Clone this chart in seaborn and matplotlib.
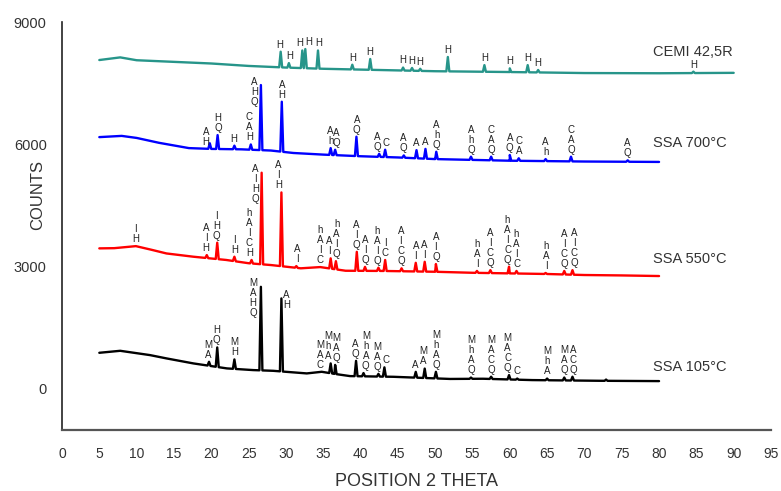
import numpy as np
import pandas as pd
import matplotlib
matplotlib.use("Agg")
import matplotlib.pyplot as plt
import seaborn as sns

# ---------------------------------------------------------------- data
# Each diffractogram: background knots (2theta, counts) and reflections (2theta, apex counts)

cem_base_x = [5, 7.8, 10, 15, 20, 25, 30, 35, 40, 45, 50, 60, 70, 80, 90]
cem_base_y = [8065, 8130, 8060, 8020, 7980, 7920, 7880, 7850, 7830, 7810, 7790, 7770, 7745, 7740, 7750]
cem_peak_x = [29.3, 30.4, 32.2, 32.6, 34.3, 38.9, 41.3, 45.7, 46.9, 48.0, 51.7, 56.6, 60.0, 62.4, 63.8, 84.6]
cem_peak_y = [8270, 7990, 8300, 8335, 8300, 7950, 8090, 7880, 7870, 7850, 8140, 7940, 7860, 7940, 7820, 7780]

s700_base_x = [5, 8, 10, 13, 17, 20, 24, 28, 31, 35, 40, 45, 50, 55, 60, 70, 80]
s700_base_y = [6170, 6200, 6150, 6030, 5900, 5880, 5870, 5840, 5780, 5740, 5700, 5670, 5630, 5610, 5590, 5570, 5560]
s700_peak_x = [19.8, 20.85, 23.1, 25.3, 26.65, 29.45, 36.0, 36.6, 39.45, 42.5, 43.3, 45.8, 47.5,
               48.7, 50.15, 54.8, 57.5, 60.0, 61.2, 64.8, 68.2, 75.8]
s700_peak_y = [6020, 6220, 5960, 5990, 7450, 7040, 5900, 5860, 6180, 5760, 5860, 5720, 5850,
               5880, 5810, 5690, 5690, 5730, 5650, 5630, 5690, 5600]

s550_base_x = [5, 7, 9.9, 12, 14, 17.6, 22, 25, 28, 32, 34.6, 38, 43, 50, 55, 60, 65, 70, 75, 80]
s550_base_y = [3435, 3440, 3490, 3400, 3310, 3230, 3150, 3070, 3025, 2945, 2975, 2885, 2880,
               2860, 2835, 2820, 2805, 2780, 2770, 2755]
s550_peak_x = [19.4, 20.8, 23.1, 25.4, 26.75, 29.4, 31.4, 36.0, 36.7, 39.5, 40.6, 42.4, 43.3,
               45.5, 47.4, 48.6, 50.1, 55.6, 57.4, 59.9, 60.9, 64.8, 67.3, 68.4]
s550_peak_y = [3270, 3575, 3230, 3150, 5295, 4810, 3000, 3190, 3120, 3350, 2980, 2960, 3150,
               2945, 3080, 3105, 3050, 2880, 2900, 2985, 2880, 2830, 2880, 2900]

s105_base_x = [5, 7.8, 11.8, 14, 17.6, 22.1, 25.6, 28.3, 32.8, 34.8, 36.5, 38.6, 44.4, 52, 56.4, 63, 72, 80]
s105_base_y = [868, 917, 811, 730, 607, 484, 443, 425, 361, 401, 350, 295, 278, 225, 230, 197, 180, 172]
s105_peak_x = [19.7, 20.8, 23.1, 26.65, 29.4, 36.0, 36.6, 39.4, 40.4, 42.4, 43.2, 47.4, 48.6,
               50.1, 54.8, 57.5, 59.9, 61.0, 65.0, 67.3, 68.4, 72.9]
s105_peak_y = [647, 1000, 705, 2490, 2205, 607, 570, 670, 370, 350, 510, 400, 480,
               400, 260, 280, 320, 235, 235, 260, 280, 210]

# Phase identification tags (2theta of tag, stacked letters)
cem_tags = [(29.2, "H"), (30.5, "H"), (31.8, "H"), (33.0, "H"), (34.4, "H"), (38.9, "H"),
            (41.3, "H"), (45.6, "H"), (46.9, "H"), (48.0, "H"), (51.7, "H"), (56.6, "H"),
            (60.0, "H"), (62.4, "H"), (63.8, "H"), (84.6, "H")]
s700_tags = [(19.3, "A\nH"), (20.9, "H\nQ"), (23.0, "H"), (25.1, "C\nA\nH"), (29.45, "A\nH"),
             (36.0, "A\nh"), (36.8, "A\nQ"), (39.5, "A\nQ"), (42.3, "A\nQ"), (43.4, "C"),
             (45.7, "A\nQ"), (47.5, "A"), (48.7, "A"), (50.2, "A\nh\nQ"), (54.8, "A\nh\nQ"),
             (57.5, "C\nA\nQ"), (60.0, "A\nQ"), (61.2, "C\nA"), (64.8, "A\nh"),
             (68.2, "C\nA\nQ"), (75.8, "A\nQ")]
s700_side = [(25.8, "A\nH\nQ")]
s550_tags = [(9.9, "I\nH"), (19.3, "A\nI\nH"), (20.7, "I\nH\nQ"), (23.1, "I\nH"),
             (25.1, "h\nA\nI\nC\nH"), (29.0, "A\nI\nH"), (31.5, "A\nI"), (34.6, "h\nA\nI\nC"),
             (35.8, "A\nI"), (36.8, "h\nA\nI\nQ"), (39.4, "A\nI\nQ"), (40.6, "A\nI\nQ"),
             (42.2, "h\nA\nI\nQ"), (43.3, "I\nC"), (45.4, "A\nI\nC\nQ"), (47.4, "A\nI"),
             (48.6, "A\nI"), (50.1, "A\nI\nQ"), (55.6, "h\nA\nI"), (57.4, "A\nI\nC\nQ"),
             (59.7, "h\nA\nI\nC\nQ"), (60.9, "h\nA\nI\nC"), (64.9, "h\nA\nI"),
             (67.3, "A\nI\nC\nQ"), (68.6, "A\nI\nC\nQ")]
s550_side = [(25.9, "A\nI\nH\nQ")]
s105_tags = [(19.6, "M\nA"), (20.7, "H\nQ"), (23.1, "M\nH"), (34.6, "M\nA\nC"), (35.7, "M\nh\nA"),
             (36.8, "M\nA\nQ"), (39.3, "A\nQ"), (40.7, "M\nh\nA\nQ"), (42.3, "M\nA\nQ"),
             (43.35, "C"), (47.3, "A"), (48.4, "M\nA"), (50.1, "M\nh\nA\nQ"), (54.8, "M\nh\nA\nQ"),
             (57.5, "M\nA\nC\nQ"), (59.7, "M\nA\nC\nQ"), (60.9, "C"), (65.0, "M\nh\nA"),
             (67.3, "M\nA\nQ"), (68.5, "A\nC\nQ")]
s105_side = [(25.6, "M\nA\nH\nQ"), (30.1, "A\nH")]

sample_names = ["CEMI 42,5R", "SSA 700°C", "SSA 550°C", "SSA 105°C"]
name_counts = [8270, 6020, 3170, 524]
x_ticks = list(range(0, 100, 5))
y_ticks = [0, 3000, 6000, 9000]

# ---------------------------------------------------------------- build profiles
def profile(bx, by, px, py, half=0.2):
    bx, by, px, py = map(np.asarray, (bx, by, px, py))
    x = np.concatenate([bx, px - half, px, px + half])
    y = np.interp(x, bx, by)
    y[len(bx) + len(px):len(bx) + 2 * len(px)] = py
    order = np.argsort(x, kind="stable")
    return x[order], y[order]

series = {
    "CEMI 42,5R": profile(cem_base_x, cem_base_y, cem_peak_x, cem_peak_y),
    "SSA 700°C": profile(s700_base_x, s700_base_y, s700_peak_x, s700_peak_y),
    "SSA 550°C": profile(s550_base_x, s550_base_y, s550_peak_x, s550_peak_y),
    "SSA 105°C": profile(s105_base_x, s105_base_y, s105_peak_x, s105_peak_y),
}
frames = [pd.DataFrame({"two_theta": x, "counts": y, "sample": k}) for k, (x, y) in series.items()]
df = pd.concat(frames, ignore_index=True)

palette = {"CEMI 42,5R": "#27958a", "SSA 700°C": "#0000ff",
           "SSA 550°C": "#ff0000", "SSA 105°C": "#000000"}

# ---------------------------------------------------------------- figure
sns.set_theme(style="white")
plt.rcParams["font.family"] = ["Liberation Sans", "DejaVu Sans"]
text_col = "#333333"

fig = plt.figure(figsize=(7.81, 4.91), dpi=100)
ax = fig.add_axes([62 / 781, 61 / 491, 709 / 781, 408 / 491])

sns.lineplot(data=df, x="two_theta", y="counts", hue="sample", palette=palette,
             estimator=None, sort=False, linewidth=1.7, legend=False, ax=ax)

ax.set_xlim(0, 95)
ax.set_ylim(-1030, 9000)
ax.set_xticks(x_ticks)
ax.set_yticks(y_ticks)
ax.tick_params(axis="x", length=0, pad=12, labelsize=10, labelcolor=text_col)
ax.tick_params(axis="y", length=0, pad=11, labelsize=10.5, labelcolor=text_col)
for s in ("top", "right"):
    ax.spines[s].set_visible(False)
ax.spines["left"].set_color("#222222")
ax.spines["left"].set_linewidth(1.2)
ax.spines["bottom"].set_color("#555555")
ax.spines["bottom"].set_linewidth(1.6)

ax.set_xlabel("POSITION 2 THETA", fontsize=13, color=text_col)
ax.xaxis.set_label_coords(0.5, -0.105)
ax.set_ylabel("")
ax.text(-0.034, 0.576, "COUNTS", rotation=90, ha="center", va="center",
        fontsize=12, color=text_col, transform=ax.transAxes)

# sample names at the right end of each trace
for nm, yc in zip(sample_names, name_counts):
    ax.text(79.2, yc, nm, ha="left", va="center", fontsize=10.5, color=text_col)

tag_kw = dict(fontsize=7, color="#222222", linespacing=1.0, ha="center")

def local_max(name, x0, win):
    xs, ys = series[name]
    m = (xs >= x0 - win) & (xs <= x0 + win)
    return ys[m].max()

def put_tags(name, tags, side=()):
    for x0, t in tags:
        ytop = local_max(name, x0, 0.45)
        ax.annotate(t, xy=(x0, ytop), xytext=(0, 1.5), textcoords="offset points",
                    va="bottom", **tag_kw)
    for x0, t in side:
        ytop = local_max(name, x0, 1.2)
        ax.annotate(t, xy=(x0, ytop), xytext=(0, 6), textcoords="offset points",
                    va="top", **tag_kw)

put_tags("CEMI 42,5R", cem_tags)
put_tags("SSA 700°C", s700_tags, s700_side)
put_tags("SSA 550°C", s550_tags, s550_side)
put_tags("SSA 105°C", s105_tags, s105_side)

fig.savefig("out.png", dpi=100, facecolor="white")
